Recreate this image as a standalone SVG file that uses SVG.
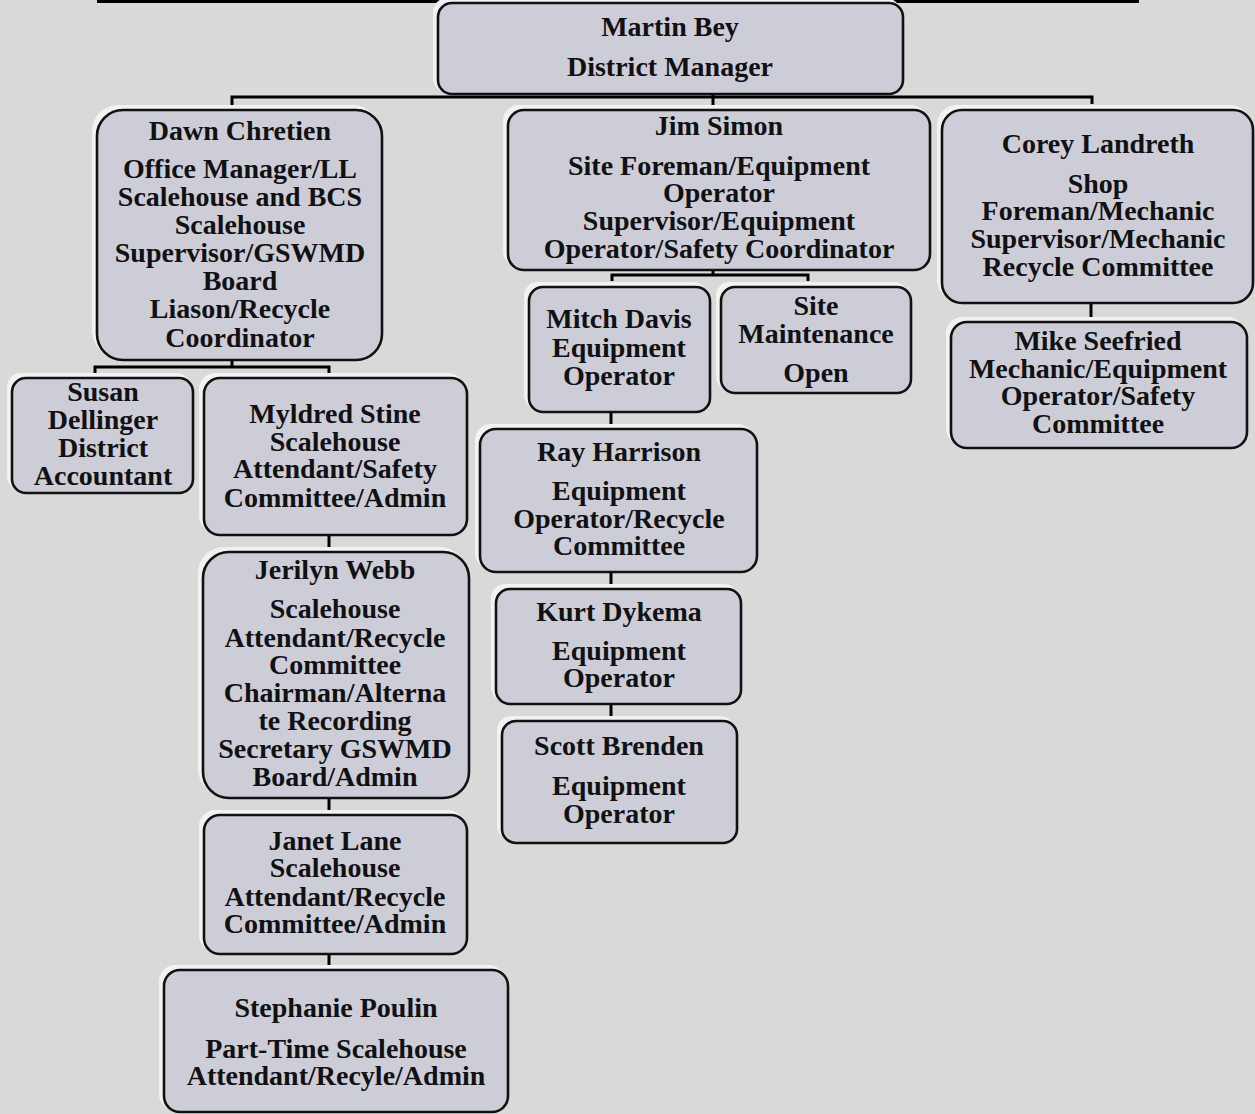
<svg xmlns="http://www.w3.org/2000/svg" width="1255" height="1114" viewBox="0 0 1255 1114">
<style>
.bg{fill:#d9d9d9}
.halo{fill:#f2f2f2;stroke:none}
.box{fill:#cdcdd8;stroke:#111;stroke-width:2.6}
.t{font-family:"Liberation Serif","Times New Roman",serif;font-weight:bold;font-size:28px;fill:#111;text-anchor:middle}
.c{stroke:#000;stroke-width:3;fill:none}
</style>
<rect class="bg" x="0" y="0" width="1255" height="1114"/>
<line class="c" x1="97" y1="1.5" x2="1139" y2="1.5"/>
<g id="connectors">
<polyline class="c" points="232,110 232,97 1092,97 1092,104"/>
<line class="c" x1="713" y1="95" x2="713" y2="110"/>
<polyline class="c" points="95,373 95,367 329,367 329,373"/>
<line class="c" x1="232" y1="360" x2="232" y2="367"/>
<line class="c" x1="329" y1="535" x2="329" y2="552"/>
<line class="c" x1="329" y1="798" x2="329" y2="815"/>
<line class="c" x1="329" y1="954" x2="329" y2="970"/>
<polyline class="c" points="612,281 612,275 808,275 808,281"/>
<line class="c" x1="713" y1="270" x2="713" y2="275"/>
<line class="c" x1="611" y1="411" x2="611" y2="429"/>
<line class="c" x1="611" y1="572" x2="611" y2="589"/>
<line class="c" x1="611" y1="704" x2="611" y2="721"/>
<line class="c" x1="1091" y1="303" x2="1091" y2="321"/>
</g>
<g id="martin">
<rect class="halo" x="433" y="-2" width="467" height="94" rx="14"/>
<rect class="box" x="438" y="3" width="465" height="91" rx="14"/>
<text class="t"><tspan x="670" y="36">Martin Bey</tspan><tspan x="670" y="76">District Manager</tspan></text>
</g>
<g id="dawn">
<rect class="halo" x="92" y="105" width="287" height="252" rx="26"/>
<rect class="box" x="97" y="110" width="285" height="250" rx="26"/>
<text class="t"><tspan x="240" y="140">Dawn Chretien</tspan><tspan x="240" y="178">Office Manager/LL</tspan><tspan x="240" y="206">Scalehouse and BCS</tspan><tspan x="240" y="234">Scalehouse</tspan><tspan x="240" y="262">Supervisor/GSWMD</tspan><tspan x="240" y="290">Board</tspan><tspan x="240" y="318">Liason/Recycle</tspan><tspan x="240" y="347">Coordinator</tspan></text>
</g>
<g id="susan">
<rect class="halo" x="7" y="373" width="183" height="117" rx="14"/>
<rect class="box" x="12" y="378" width="181" height="115" rx="14"/>
<text class="t"><tspan x="103" y="401">Susan</tspan><tspan x="103" y="429">Dellinger</tspan><tspan x="103" y="457">District</tspan><tspan x="103" y="485">Accountant</tspan></text>
</g>
<g id="myldred">
<rect class="halo" x="199" y="373" width="265" height="159" rx="16"/>
<rect class="box" x="204" y="378" width="263" height="157" rx="16"/>
<text class="t"><tspan x="335" y="423">Myldred Stine</tspan><tspan x="335" y="451">Scalehouse</tspan><tspan x="335" y="478">Attendant/Safety</tspan><tspan x="335" y="507">Committee/Admin</tspan></text>
</g>
<g id="jerilyn">
<rect class="halo" x="198" y="547" width="268" height="248" rx="26"/>
<rect class="box" x="203" y="552" width="266" height="246" rx="26"/>
<text class="t"><tspan x="335" y="579">Jerilyn Webb</tspan><tspan x="335" y="618">Scalehouse</tspan><tspan x="335" y="647">Attendant/Recycle</tspan><tspan x="335" y="674">Committee</tspan><tspan x="335" y="702">Chairman/Alterna</tspan><tspan x="335" y="730">te Recording</tspan><tspan x="335" y="758">Secretary GSWMD</tspan><tspan x="335" y="786">Board/Admin</tspan></text>
</g>
<g id="janet">
<rect class="halo" x="199" y="810" width="265" height="141" rx="16"/>
<rect class="box" x="204" y="815" width="263" height="139" rx="16"/>
<text class="t"><tspan x="335" y="850">Janet Lane</tspan><tspan x="335" y="877">Scalehouse</tspan><tspan x="335" y="906">Attendant/Recycle</tspan><tspan x="335" y="933">Committee/Admin</tspan></text>
</g>
<g id="stephanie">
<rect class="halo" x="159" y="965" width="346" height="145" rx="16"/>
<rect class="box" x="164" y="970" width="344" height="142" rx="16"/>
<text class="t"><tspan x="336" y="1017">Stephanie Poulin</tspan><tspan x="336" y="1058">Part-Time Scalehouse</tspan><tspan x="336" y="1085">Attendant/Recyle/Admin</tspan></text>
</g>
<g id="jim">
<rect class="halo" x="503" y="105" width="424" height="162" rx="16"/>
<rect class="box" x="508" y="110" width="422" height="160" rx="16"/>
<text class="t"><tspan x="719" y="135">Jim Simon</tspan><tspan x="719" y="175">Site Foreman/Equipment</tspan><tspan x="719" y="202">Operator</tspan><tspan x="719" y="230">Supervisor/Equipment</tspan><tspan x="719" y="258">Operator/Safety Coordinator</tspan></text>
</g>
<g id="mitch">
<rect class="halo" x="524" y="282" width="183" height="127" rx="14"/>
<rect class="box" x="529" y="287" width="181" height="125" rx="14"/>
<text class="t"><tspan x="619" y="328">Mitch Davis</tspan><tspan x="619" y="357">Equipment</tspan><tspan x="619" y="385">Operator</tspan></text>
</g>
<g id="site">
<rect class="halo" x="716" y="282" width="192" height="108" rx="14"/>
<rect class="box" x="721" y="287" width="190" height="106" rx="14"/>
<text class="t"><tspan x="816" y="315">Site</tspan><tspan x="816" y="343">Maintenance</tspan><tspan x="816" y="382">Open</tspan></text>
</g>
<g id="ray">
<rect class="halo" x="475" y="424" width="279" height="145" rx="16"/>
<rect class="box" x="480" y="429" width="277" height="143" rx="16"/>
<text class="t"><tspan x="619" y="461">Ray Harrison</tspan><tspan x="619" y="500">Equipment</tspan><tspan x="619" y="528">Operator/Recycle</tspan><tspan x="619" y="555">Committee</tspan></text>
</g>
<g id="kurt">
<rect class="halo" x="491" y="584" width="247" height="117" rx="14"/>
<rect class="box" x="496" y="589" width="245" height="115" rx="14"/>
<text class="t"><tspan x="619" y="621">Kurt Dykema</tspan><tspan x="619" y="660">Equipment</tspan><tspan x="619" y="687">Operator</tspan></text>
</g>
<g id="scott">
<rect class="halo" x="497" y="716" width="237" height="124" rx="14"/>
<rect class="box" x="502" y="721" width="235" height="122" rx="14"/>
<text class="t"><tspan x="619" y="755">Scott Brenden</tspan><tspan x="619" y="795">Equipment</tspan><tspan x="619" y="823">Operator</tspan></text>
</g>
<g id="corey">
<rect class="halo" x="937" y="105" width="313" height="195" rx="20"/>
<rect class="box" x="942" y="110" width="311" height="193" rx="20"/>
<text class="t"><tspan x="1098" y="153">Corey Landreth</tspan><tspan x="1098" y="193">Shop</tspan><tspan x="1098" y="220">Foreman/Mechanic</tspan><tspan x="1098" y="248">Supervisor/Mechanic</tspan><tspan x="1098" y="276">Recycle Committee</tspan></text>
</g>
<g id="mike">
<rect class="halo" x="946" y="317" width="298" height="128" rx="16"/>
<rect class="box" x="951" y="322" width="296" height="126" rx="16"/>
<text class="t"><tspan x="1098" y="350">Mike Seefried</tspan><tspan x="1098" y="378">Mechanic/Equipment</tspan><tspan x="1098" y="405">Operator/Safety</tspan><tspan x="1098" y="433">Committee</tspan></text>
</g>
</svg>
